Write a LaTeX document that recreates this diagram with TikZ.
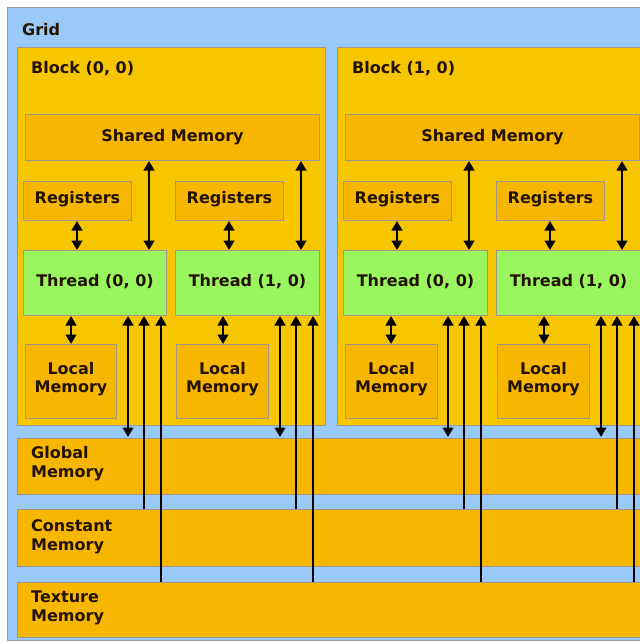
\documentclass[tikz,border=0pt]{standalone}
\usepackage{fontspec}
\setmainfont{DejaVu Sans}
\usetikzlibrary{arrows.meta,calc}
\definecolor{gridblue}{RGB}{153,201,246}
\definecolor{blockfill}{RGB}{248,198,0}
\definecolor{memfill}{RGB}{247,183,0}
\definecolor{threadfill}{RGB}{153,246,94}
\definecolor{edgegray}{RGB}{160,150,140}
\definecolor{txt}{RGB}{35,18,0}
\begin{document}
\begin{tikzpicture}[x=1pt,y=-1pt,
  box/.style={draw=edgegray, line width=1pt, inner sep=0pt, anchor=north west},
  lbl/.style={inner sep=0pt, font=\bfseries\fontsize{16}{19}\selectfont, text=txt, align=left, anchor=west},
  inlbl/.style={inner sep=0pt, font=\bfseries\fontsize{16}{18}\selectfont, text=txt, align=center},
  dbl/.style={line width=2.4pt, {Triangle[width=10.5pt,length=9.5pt]}-{Triangle[width=10.5pt,length=9.5pt]}},
  sgl/.style={line width=2.4pt, -{Triangle[width=10.5pt,length=9.5pt]}}]
\useasboundingbox (0,0) rectangle (640,643);
\clip (0,0) rectangle (640,643);
\fill[white] (0,0) rectangle (640,643);
% grid
\node[box, fill=gridblue, minimum width=660, minimum height=633] (grid) at (7,7) {};
\node[lbl] (gridlbl) at (22,30) {Grid};
% blocks
\node[box, fill=blockfill, minimum width=308, minimum height=378] (b0) at (17,47) {};
\node[box, fill=blockfill, minimum width=320, minimum height=378] (b1) at (337,47) {};
\node[lbl] (b0lbl) at (31,69) {Block (0, 0)};
\node[lbl] (b1lbl) at (352,69) {Block (1, 0)};
% shared memory
\node[box, fill=memfill, minimum width=294, minimum height=46, label={[inlbl]center:Shared Memory}] (s0) at (25,114) {};
\node[box, fill=memfill, minimum width=294, minimum height=46, label={[inlbl]center:Shared Memory}] (s1) at (345,114) {};
% registers
\foreach \n/\x in {r1/23, r2/175, r3/343, r4/496}
  \node[box, fill=memfill, minimum width=108, minimum height=39, label={[inlbl,yshift=2pt]center:Registers}] (\n) at (\x,181) {};
% threads
\node[box, fill=threadfill, minimum width=143, minimum height=65, label={[inlbl,yshift=1.5pt]center:Thread (0, 0)}] (t1) at (23,250) {};
\node[box, fill=threadfill, minimum width=144, minimum height=65, label={[inlbl,yshift=1.5pt]center:Thread (1, 0)}] (t2) at (175,250) {};
\node[box, fill=threadfill, minimum width=144, minimum height=65, label={[inlbl,yshift=1.5pt]center:Thread (0, 0)}] (t3) at (343,250) {};
\node[box, fill=threadfill, minimum width=144, minimum height=65, label={[inlbl,yshift=1.5pt]center:Thread (1, 0)}] (t4) at (496,250) {};
% local memory
\node[box, fill=memfill, minimum width=91, minimum height=74, label={[inlbl,yshift=2pt]center:Local\\Memory}] (l1) at (25,344) {};
\node[box, fill=memfill, minimum width=92, minimum height=74, label={[inlbl,yshift=2pt]center:Local\\Memory}] (l2) at (176,344) {};
\node[box, fill=memfill, minimum width=92, minimum height=74, label={[inlbl,yshift=2pt]center:Local\\Memory}] (l3) at (345,344) {};
\node[box, fill=memfill, minimum width=92, minimum height=74, label={[inlbl,yshift=2pt]center:Local\\Memory}] (l4) at (497,344) {};
% device memories
\node[box, fill=memfill, minimum width=640, minimum height=56] (gm) at (17,438) {};
\node[box, fill=memfill, minimum width=640, minimum height=57] (cm) at (17,509) {};
\node[box, fill=memfill, minimum width=640, minimum height=55] (tm) at (17,582) {};
\node[lbl] (gmlbl) at (31,464) {Global\\Memory};
\node[lbl] (cmlbl) at (31,537) {Constant\\Memory};
\node[lbl] (tmlbl) at (31,608) {Texture\\Memory};
% arrows
\foreach \t/\r/\l/\s in {t1/r1/l1/s0, t2/r2/l2/s0, t3/r3/l3/s1, t4/r4/l4/s1} {
  \draw[dbl] ($(\r.south west)+(54,0)$) -- ($(\t.north west)+(54,0)$);
  \draw[dbl] ($(\t.north west |- \s.south)+(126,0)$) -- ($(\t.north west)+(126,0)$);
  \draw[dbl] ($(\t.south west)+(48,0)$) -- ($(\t.south west |- \l.north)+(48,0)$);
  \draw[dbl] ($(\t.south west)+(105,0)$) -- ($(\t.south west |- gm.north)+(105,-1)$);
  \draw[sgl] ($(\t.south west |- cm.north)+(121,0)$) -- ($(\t.south west)+(121,0)$);
  \draw[sgl] ($(\t.south west |- tm.north)+(138,0)$) -- ($(\t.south west)+(138,0)$);
}
\end{tikzpicture}
\end{document}
